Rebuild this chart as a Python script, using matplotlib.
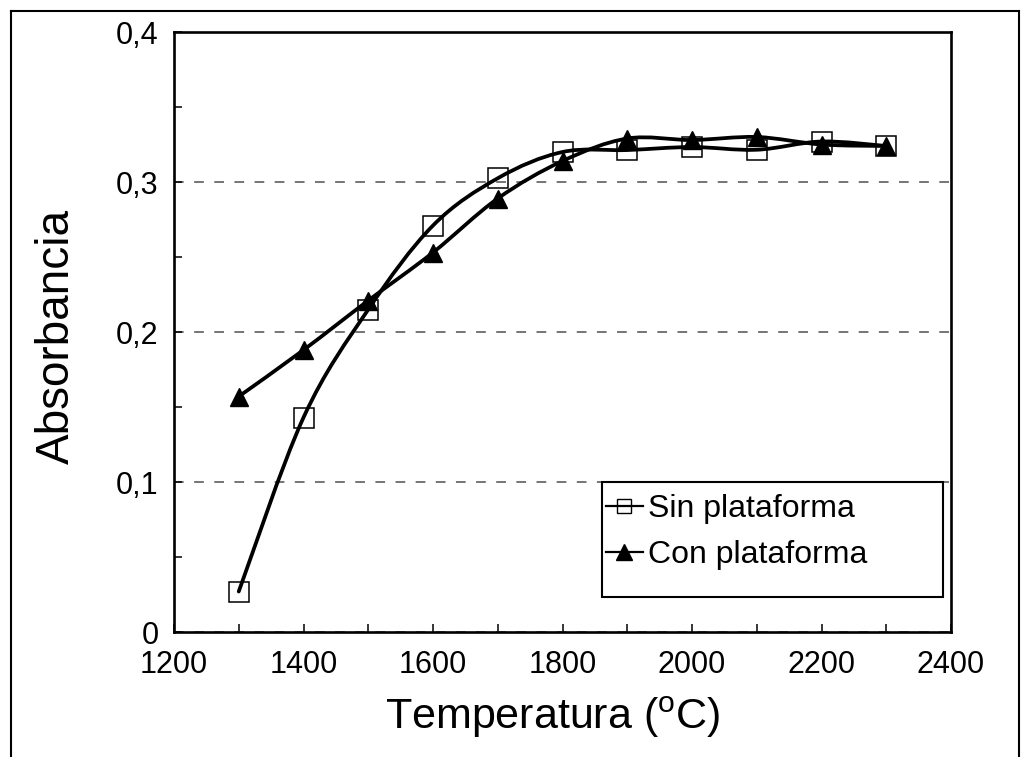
import numpy as np
import matplotlib
matplotlib.use("Agg")
import matplotlib.pyplot as plt
from matplotlib.path import Path
from matplotlib.patches import PathPatch, Rectangle
from matplotlib.lines import Line2D
from matplotlib.ticker import MultipleLocator, FixedLocator

# Absorbance versus atomisation temperature
temperatura = [1300, 1400, 1500, 1600, 1700, 1800, 1900, 2000, 2100, 2200, 2300]
sin_plataforma = [0.027, 0.143, 0.215, 0.271, 0.3025, 0.320, 0.3213, 0.3233, 0.3215, 0.327, 0.324]
con_plataforma = [0.157, 0.188, 0.221, 0.253, 0.289, 0.314, 0.329, 0.328, 0.330, 0.325, 0.324]

y_ticks = [0.0, 0.1, 0.2, 0.3, 0.4]
y_tick_labels = ["0", "0,1", "0,2", "0,3", "0,4"]
x_ticks = [1200, 1400, 1600, 1800, 2000, 2200, 2400]
series_names = ["Sin plataforma", "Con plataforma"]

W, H = 1034, 757
plt.rcParams["font.family"] = ["Liberation Sans", "DejaVu Sans"]
plt.rcParams["mathtext.fontset"] = "custom"
plt.rcParams["mathtext.rm"] = "Liberation Sans"
plt.rcParams["lines.scale_dashes"] = False


def smooth_path(x, y):
    """Cubic Bezier path through the points (Catmull-Rom style smoothing)."""
    pts = np.column_stack([x, y]).astype(float)
    n = len(pts)
    verts = [pts[0]]
    codes = [Path.MOVETO]
    for i in range(n - 1):
        p0 = pts[max(i - 1, 0)]
        p1 = pts[i]
        p2 = pts[i + 1]
        p3 = pts[min(i + 2, n - 1)]
        c1 = p1 + (p2 - p0) / 6.0
        c2 = p2 - (p3 - p1) / 6.0
        verts += [c1, c2, p2]
        codes += [Path.CURVE4] * 3
    return Path(verts, codes)


fig = plt.figure(figsize=(W / 100, H / 100), dpi=100)
ax = fig.add_axes([174 / W, 1 - 632 / H, (951 - 174) / W, (632 - 32) / H])

ax.set_xlim(1200, 2400)
ax.set_ylim(0, 0.4)

# smoothed connecting curves
for series in (sin_plataforma, con_plataforma):
    ax.add_patch(PathPatch(smooth_path(temperatura, series), fc="none", ec="black",
                           lw=2.7, capstyle="round", joinstyle="round", zorder=3))

ax.plot(temperatura, sin_plataforma, ls="none", marker="s", ms=14, mfc="none",
        mec="black", mew=1.1, zorder=4)
ax.plot(temperatura, con_plataforma, ls="none", marker="^", ms=13, color="black",
        mec="black", zorder=5)

# axes, ticks and grid
ax.yaxis.set_major_locator(FixedLocator(y_ticks))
ax.set_yticklabels(y_tick_labels)
ax.yaxis.set_minor_locator(MultipleLocator(0.05))
ax.xaxis.set_major_locator(FixedLocator(x_ticks))
ax.xaxis.set_minor_locator(MultipleLocator(100))
ax.tick_params(axis="both", which="both", direction="in", length=6, width=1.1,
               labelsize=22, colors="black")
ax.tick_params(axis="y", which="major", pad=11)
ax.tick_params(axis="x", which="major", pad=13)

ax.set_axisbelow(True)
ax.yaxis.grid(True, which="major", linestyle=(0, (7, 7.5)), color="#505050", lw=1.1)
for sp in ax.spines.values():
    sp.set_linewidth(1.9)
    sp.set_color("black")

# axis titles
fig.text(57 / W, 1 - 336 / H, "Absorbancia", rotation=90, ha="center", va="center",
         fontsize=33)
fig.text(553 / W, 1 - 717 / H, r"Temperatura ($\mathregular{^o}$C)", ha="center",
         va="center", fontsize=31)

# legend box
fig.add_artist(Rectangle((602 / W, 1 - 597 / H), (943 - 602) / W, (597 - 482) / H,
                         transform=fig.transFigure, fc="white", ec="black", lw=1.5,
                         zorder=6))
h_sin = Line2D([], [], color="black", lw=1.6, marker="s", ms=10, mfc="none",
               mec="black", mew=1.0)
h_con = Line2D([], [], color="black", lw=1.6, marker="^", ms=11)
leg = fig.legend([h_sin, h_con], series_names,
                 loc="upper left", bbox_to_anchor=(606 / W, 1 - 494 / H),
                 bbox_transform=fig.transFigure, borderaxespad=0, fontsize=23,
                 frameon=False, handlelength=1.15, handletextpad=0.15,
                 borderpad=0, labelspacing=0.5)
leg.set_zorder(7)

# outer frame around the figure
frame_kw = dict(transform=fig.transFigure, color="black", lw=1.5)
fig.add_artist(Line2D([11 / W, 11 / W], [0, 1 - 11 / H], **frame_kw))
fig.add_artist(Line2D([11 / W, 1019 / W], [1 - 11 / H, 1 - 11 / H], **frame_kw))
fig.add_artist(Line2D([1019 / W, 1019 / W], [0, 1 - 11 / H], **frame_kw))

fig.savefig("out.png", dpi=100, facecolor="white")
